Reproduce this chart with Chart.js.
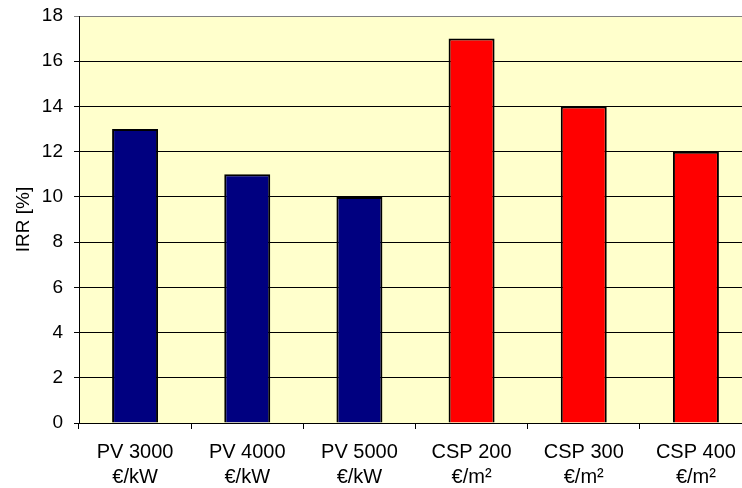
<!DOCTYPE html>
<html>
<head>
<meta charset="utf-8">
<script src="https://cdn.jsdelivr.net/npm/chart.js@4"></script>
<style>
  html, body { margin: 0; padding: 0; background: #fff; overflow: hidden; }
  #wrap { width: 752px; height: 488px; }
</style>
</head>
<body>
<div id="wrap"><canvas id="irrChart"></canvas></div>
<script>
const categories = [
  ['PV 3000', '€/kW'],
  ['PV 4000', '€/kW'],
  ['PV 5000', '€/kW'],
  ['CSP 200', '€/m²'],
  ['CSP 300', '€/m²'],
  ['CSP 400', '€/m²']
];
const irrValues = [13, 11, 10, 17, 14, 12];
const barColors = ['#000080', '#000080', '#000080', '#FF0000', '#FF0000', '#FF0000'];
const yTicks = [0, 2, 4, 6, 8, 10, 12, 14, 16, 18];

// yellow plot area
const plotBg = {
  id: 'plotBg',
  beforeDraw(chart) {
    const { ctx, chartArea: a } = chart;
    ctx.save();
    ctx.fillStyle = '#FFFFCC';
    ctx.fillRect(a.left, a.top, a.right - a.left, a.bottom - a.top);
    ctx.restore();
  }
};

new Chart(document.getElementById('irrChart'), {
  type: 'bar',
  data: {
    labels: categories,
    datasets: [{
      label: 'IRR',
      data: irrValues,
      backgroundColor: barColors,
      borderColor: '#000',
      borderWidth: 2,
      categoryPercentage: 1,
      barPercentage: 0.41
    }]
  },
  options: {
    responsive: true,
    maintainAspectRatio: false,
    animation: false,
    layout: { padding: { top: 16, left: 0, right: 0, bottom: 0 } },
    plugins: {
      legend: { display: false },
      tooltip: { enabled: false }
    },
    scales: {
      x: {
        grid: {
          offset: true,
          drawOnChartArea: false,
          tickLength: 6,
          color: '#000'
        },
        border: { color: '#000', width: 1 },
        ticks: {
          color: '#000',
          padding: 11,
          maxRotation: 0,
          font: { family: 'Liberation Sans', size: 20, lineHeight: 1.25 }
        },
        afterFit(scale) {
          scale.height = 65;
          scale.paddingLeft = 0;
          scale.paddingRight = 0;
        }
      },
      y: {
        min: 0,
        max: 18,
        afterBuildTicks(scale) { scale.ticks = yTicks.map(v => ({ value: v })); },
        grid: {
          color: ctx => ctx.tick && ctx.tick.value === 18 ? '#808080' : '#000',
          tickLength: 5,
          lineWidth: 1
        },
        border: { color: '#000', width: 1 },
        ticks: {
          color: '#000',
          padding: 11,
          font: { family: 'Liberation Sans', size: 19 }
        },
        title: {
          display: true,
          text: 'IRR [%]',
          color: '#000',
          padding: { top: 12, bottom: 0 },
          font: { family: 'Liberation Sans', size: 19 }
        },
        afterFit(scale) {
          scale.width = 79;
          scale.paddingTop = 0;
          scale.paddingBottom = 0;
        }
      }
    }
  },
  plugins: [plotBg]
});
</script>
</body>
</html>
